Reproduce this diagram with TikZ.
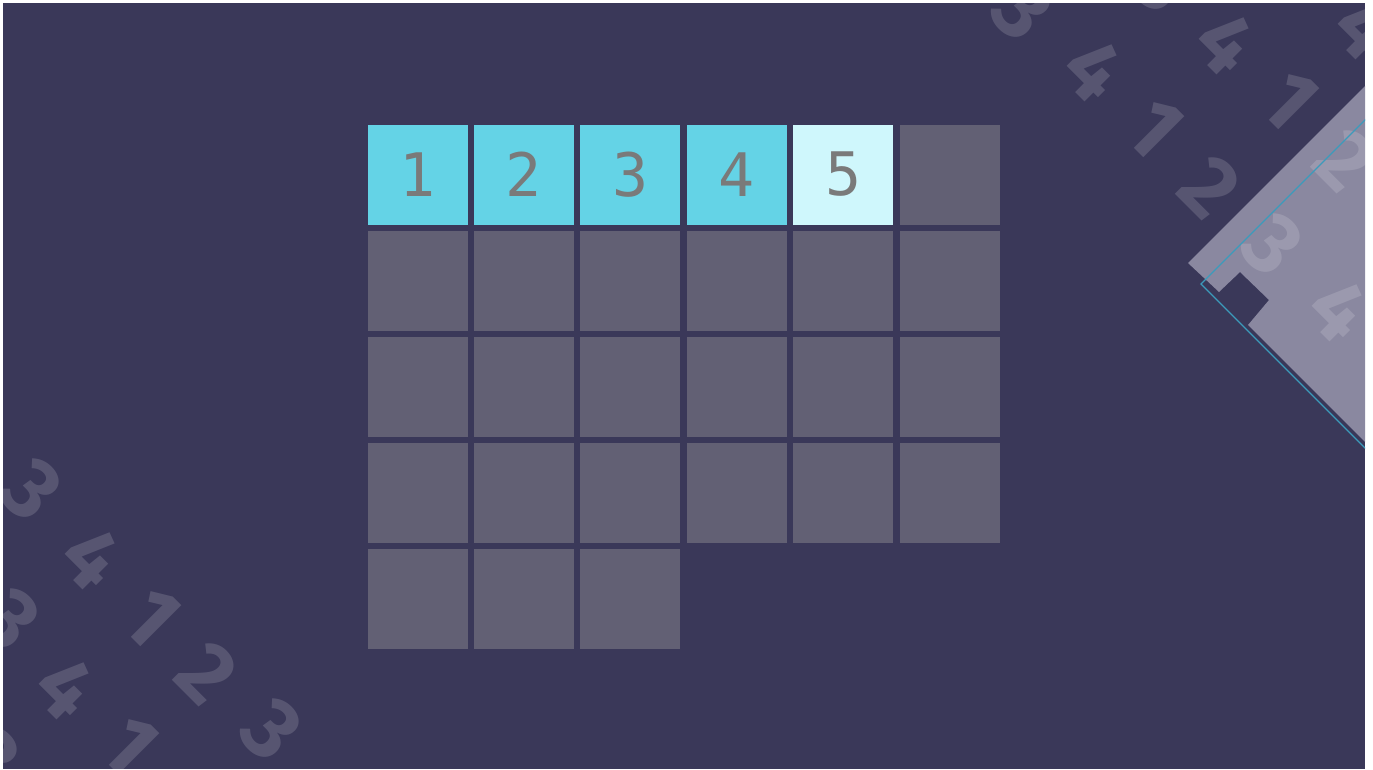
\documentclass[tikz,border=0pt]{standalone}
\usepackage{fontspec}
\newfontfamily\cellfont{DejaVu Sans Mono}
\newfontfamily\bgfont{Fira Sans}
\definecolor{bg}{HTML}{3A3859}
\definecolor{cellgray}{HTML}{626074}
\definecolor{cellcyan}{HTML}{64D3E6}
\definecolor{celllight}{HTML}{CFF7FC}
\definecolor{digitgray}{HTML}{7A7A7A}
\definecolor{shapegray}{HTML}{8A88A0}
\definecolor{edgecyan}{HTML}{3C9BBB}
\begin{document}
\begin{tikzpicture}[x=1pt,y=-1pt,
  cell/.style={minimum size=100pt, inner sep=0pt, fill=cellgray, text=digitgray,
    font=\cellfont\fontsize{60}{60}\selectfont},
  done/.style={cell, fill=cellcyan},
  current/.style={cell, fill=celllight},
  bgdigit/.style={rotate=-45, inner sep=0pt, text=white, text opacity=0.15,
    font=\bgfont\bfseries\fontsize{86}{86}\selectfont}]
\fill[white] (0,0) rectangle (1373,769);
\useasboundingbox (0,0) rectangle (1373,769);
\fill[bg] (3,3) rectangle (1365,769);
\begin{scope}
\clip (3,3) rectangle (1365,769);
% rotated board on the right
\fill[shapegray] (1188,263) -- (1219,292) -- (1240,272) -- (1269,300) -- (1248,325)
  -- (1420,497) -- (1420,31) -- cycle;
% background digits, top right
\node[bgdigit] (t1) at (1023,10) {3};
\node[bgdigit] (t2) at (1095,70) {4};
\node[bgdigit] (t3) at (1155,128) {1};
\node[bgdigit] (t4) at (1210,187) {2};
\node[bgdigit] (t5) at (1273,245) {3};
\node[bgdigit] (t6) at (1340,310) {4};
\node[bgdigit] (u1) at (1163,-18) {3};
\node[bgdigit] (u2) at (1227,43) {4};
\node[bgdigit] (u3) at (1290,100) {1};
\node[bgdigit] (u4) at (1345,160) {2};
\node[bgdigit] (v1) at (1366,28) {4};
% background digits, bottom left
\node[bgdigit] (a1) at (32,490) {3};
\node[bgdigit] (a2) at (93,558) {4};
\node[bgdigit] (a3) at (152,617) {1};
\node[bgdigit] (a4) at (207,673) {2};
\node[bgdigit] (a5) at (272,730) {3};
\node[bgdigit] (a6) at (340,795) {4};
\node[bgdigit] (b1) at (10,620) {3};
\node[bgdigit] (b2) at (67,688) {4};
\node[bgdigit] (b3) at (130,745) {1};
\node[bgdigit] (c1) at (-10,758) {3};
% cyan outline
\draw[edgecyan, line width=1.3pt] (1420,65) -- (1201,284) -- (1420,503);
\end{scope}
% grid
\foreach \r in {0,...,3}
  \foreach \c in {0,...,5}
    \node[cell] (g-\r-\c) at ({417.5+106.4*\c},{174.5+106*\r}) {};
\foreach \c in {0,1,2}
  \node[cell] (g-4-\c) at ({417.5+106.4*\c},{174.5+106*4}) {};
\node[done] (n1) at (g-0-0) {1};
\node[done] (n2) at (g-0-1) {2};
\node[done] (n3) at (g-0-2) {3};
\node[done] (n4) at (g-0-3) {4};
\node[current] (n5) at (g-0-4) {5};
\end{tikzpicture}
\end{document}
